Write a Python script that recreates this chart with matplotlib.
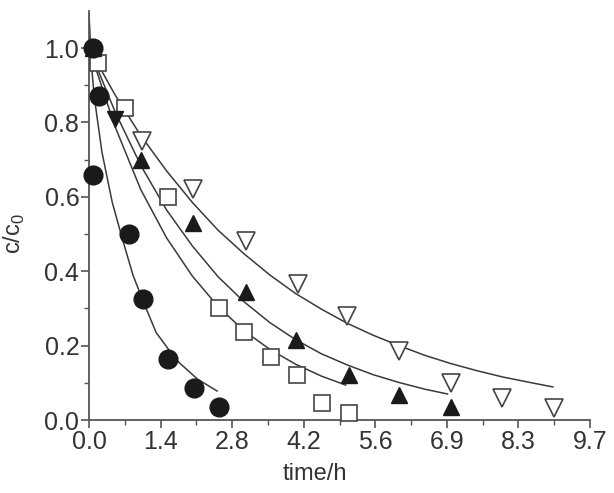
import numpy as np
import matplotlib
matplotlib.use("Agg")
import matplotlib.pyplot as plt

plt.rcParams['font.family'] = ['Liberation Sans', 'DejaVu Sans']

# measured points
circ_t = [0.08, 0.19, 0.08, 0.78, 1.05, 1.53, 2.04, 2.52]
circ_c = [1.0, 0.87, 0.66, 0.50, 0.325, 0.165, 0.085, 0.035]

sq_t = [0.17, 0.70, 1.53, 2.52, 3.0, 3.53, 4.02, 4.52, 5.03]
sq_c = [0.96, 0.84, 0.60, 0.30, 0.237, 0.17, 0.12, 0.045, 0.02]

tri_t = [0.08, 1.01, 2.02, 3.03, 4.0, 5.03, 6.01, 7.0]
tri_c = [1.0, 0.70, 0.53, 0.345, 0.215, 0.12, 0.067, 0.035]
tri_extra_t = [0.5]
tri_extra_c = [0.81]

dtri_t = [1.03, 2.02, 3.03, 4.05, 5.0, 6.01, 7.0, 8.0, 9.0]
dtri_c = [0.75, 0.62, 0.48, 0.365, 0.28, 0.185, 0.10, 0.06, 0.033]

# fitted curves
circ_fit_t = [0.0, 0.05, 0.1, 0.25, 0.45, 0.65, 0.85, 1.04, 1.3, 1.7, 2.1, 2.48]
circ_fit_c = [1.09, 0.95, 0.87, 0.72, 0.585, 0.485, 0.39, 0.322, 0.235, 0.16, 0.11, 0.078]

sq_fit_t = [0.0, 0.5, 1.0, 1.5, 2.0, 2.5, 3.0, 3.5, 4.0, 4.5, 4.97]
sq_fit_c = [1.0, 0.79, 0.62, 0.49, 0.387, 0.305, 0.24, 0.19, 0.15, 0.118, 0.094]

tri_fit_t = [0.0, 0.5, 1.0, 1.5, 2.0, 2.5, 3.0, 3.5, 4.0, 4.5, 5.0, 5.5, 6.0, 6.5, 6.94]
tri_fit_c = [1.0, 0.83, 0.685, 0.565, 0.468, 0.385, 0.318, 0.262, 0.216, 0.178,
             0.148, 0.122, 0.101, 0.083, 0.07]

dtri_fit_t = [0.0, 0.5, 1.0, 1.5, 2.0, 2.5, 3.0, 3.5, 4.0, 4.5, 5.0, 5.5, 6.0, 6.5,
              7.0, 7.5, 8.0, 8.5, 8.98]
dtri_fit_c = [1.0, 0.875, 0.765, 0.67, 0.585, 0.51, 0.447, 0.39, 0.34, 0.298, 0.26,
              0.228, 0.2, 0.174, 0.152, 0.133, 0.116, 0.102, 0.089]

xtick_labels = ['0.0', '1.4', '2.8', '4.2', '5.6', '6.9', '8.3', '9.7']
ytick_vals = [0.0, 0.2, 0.4, 0.6, 0.8, 1.0]

axis_col = '#555555'
text_col = '#333333'
line_col = '#3a3a3a'

fig = plt.figure(figsize=(6.14, 4.93), dpi=100)
ax = fig.add_axes([0.145, 0.148, 0.816, 0.83])

# curves
for t, c in [(circ_fit_t, circ_fit_c), (sq_fit_t, sq_fit_c),
             (tri_fit_t, tri_fit_c), (dtri_fit_t, dtri_fit_c)]:
    ax.plot(t, c, color=line_col, lw=1.1, zorder=2)

# markers
ax.plot(dtri_t, dtri_c, 'v', ms=13, mfc='white', mec='#444444', mew=1.2,
        ls='none', zorder=3, clip_on=False)
ax.plot(sq_t, sq_c, 's', ms=11, mfc='white', mec='#444444', mew=1.2,
        ls='none', zorder=3, clip_on=False)
ax.plot(tri_t, tri_c, '^', ms=12, mfc='#1a1a1a', mec='#1a1a1a',
        ls='none', zorder=4, clip_on=False)
ax.plot(tri_extra_t, tri_extra_c, 'v', ms=11, mfc='#1a1a1a', mec='#1a1a1a',
        ls='none', zorder=4, clip_on=False)
ax.plot(circ_t, circ_c, 'o', ms=13.5, mfc='#1a1a1a', mec='#1a1a1a',
        ls='none', zorder=4, clip_on=False)

ax.set_xlim(0, 9.7)
ax.set_ylim(0, 1.1)

xt = np.linspace(0, 9.7, len(xtick_labels))
ax.set_xticks(xt)
ax.set_xticklabels(xtick_labels)
ax.set_xticks((xt[:-1] + xt[1:]) / 2, minor=True)
ax.set_yticks(ytick_vals)
ax.set_yticklabels(['%.1f' % v for v in ytick_vals])
ax.set_yticks([0.1, 0.3, 0.5, 0.7, 0.9], minor=True)

for s in ['top', 'right']:
    ax.spines[s].set_visible(False)
for s in ['left', 'bottom']:
    ax.spines[s].set_color(axis_col)
    ax.spines[s].set_linewidth(1.3)

ax.tick_params(which='major', direction='out', length=6, width=1.2,
               color=axis_col, labelsize=18, labelcolor=text_col, pad=1)
ax.tick_params(which='minor', direction='out', length=3.5, width=1.0,
               color=axis_col)

ax.set_xlabel('time/h', fontsize=17, color=text_col)
ax.set_ylabel(r'c/c$_\mathregular{0}$', fontsize=17, color=text_col)
ax.xaxis.set_label_coords(0.45, -0.105)
ax.yaxis.set_label_coords(-0.124, 0.457)

fig.savefig('out.png', dpi=100)
